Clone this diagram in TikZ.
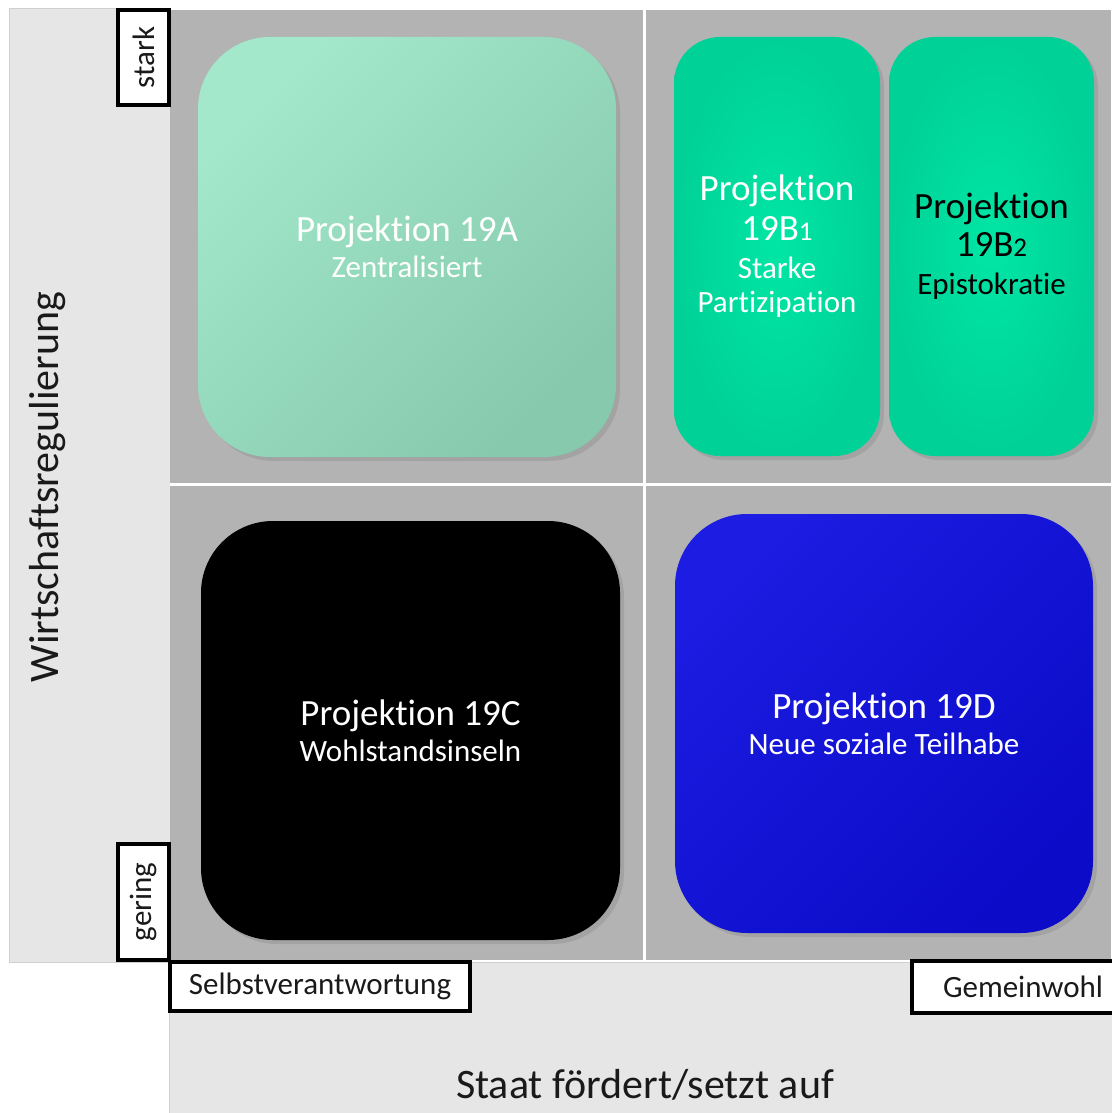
\documentclass[tikz,border=0pt]{standalone}
\usepackage{fontspec}
\setmainfont{Carlito}[Ligatures=NoCommon]
\usetikzlibrary{shadows}

\definecolor{raster}{HTML}{B3B3B3}
\definecolor{panel}{HTML}{E6E6E6}
\definecolor{panelrand}{HTML}{CFCFCF}
\definecolor{mintA}{HTML}{A3E8CB}
\definecolor{mintB}{HTML}{86C9AC}
\definecolor{gruenHell}{HTML}{00E6A5}
\definecolor{gruenDunkel}{HTML}{00D197}
\definecolor{blauA}{HTML}{1C1CE2}
\definecolor{blauB}{HTML}{0B0BC8}
\definecolor{schrift}{HTML}{1A1A1A}

\newcommand{\projgross}{\fontsize{37}{37}\selectfont}
\newcommand{\projklein}{\fontsize{31}{34}\selectfont}

\begin{document}
\begin{tikzpicture}[x=1pt, y=-1pt,
  projektion/.style={rectangle, inner sep=0pt, align=center, text=white, font=\projklein,
    drop shadow={shadow xshift=4pt, shadow yshift=-4pt, opacity=0.3}},
  pol/.style={draw=black, line width=4pt, fill=white, inner sep=0pt, text=schrift,
    font=\fontsize{31}{31}\selectfont},
  achse/.style={text=schrift, font=\fontsize{42}{42}\selectfont}]
\useasboundingbox (0,0) rectangle (1111,1113);

% Hintergrund
\fill[white] (0,0) rectangle (1111,1113);
\filldraw[fill=panel, draw=panelrand, line width=1pt] (9,9) rectangle (170,962);
\filldraw[fill=panel, draw=panelrand, line width=1pt] (169,962) rectangle (1115,1116);
\fill[raster] (170,10) rectangle (1111,960);
\draw[white, line width=3pt] (644,10) -- (644,960);
\draw[white, line width=3pt] (170,484) -- (1111,484);

% Projektionen
\node[projektion, rounded corners=72pt, minimum width=418, minimum height=420,
  top color=mintA, bottom color=mintB, shading angle=45] (p19A) at (407,247)
  {{\projgross Projektion 19A}\\[2pt]Zentralisiert};
\node[projektion, rounded corners=46pt, minimum width=206, minimum height=419,
  inner color=gruenHell, outer color=gruenDunkel] (p19B1) at (777,246.5)
  {{\projgross Projektion}\\[6pt]{\projgross 19B{\fontsize{27}{27}\selectfont 1}}\\[4pt]Starke\\Partizipation};
\node[projektion, rounded corners=46pt, minimum width=205, minimum height=419,
  inner color=gruenHell, outer color=gruenDunkel, text=black] (p19B2) at (991.5,246.5)
  {{\projgross Projektion}\\[4pt]{\projgross 19B{\fontsize{27}{27}\selectfont 2}}\\[4pt]Epistokratie};
\node[projektion, rounded corners=72pt, minimum width=419, minimum height=419,
  fill=black] (p19C) at (410.5,730.5)
  {{\projgross Projektion 19C}\\[2pt]Wohlstandsinseln};
\node[projektion, rounded corners=72pt, minimum width=418, minimum height=419,
  top color=blauA, bottom color=blauB, shading angle=45] (p19D) at (884,723.5)
  {{\projgross Projektion 19D}\\[2pt]Neue soziale Teilhabe};

% Pole
\node[pol, rotate=90, minimum width=95, minimum height=51] (stark) at (143.5,57.5) {stark};
\node[pol, rotate=90, minimum width=116, minimum height=51] (gering) at (143.5,902) {gering};
\node[pol, minimum width=300, minimum height=49] (selbst) at (320,986.5) {Selbstverantwortung};
\node[pol, minimum width=222, minimum height=52] (gemein) at (1023,987) {Gemeinwohl};

% Achsen
\node[achse, rotate=90] (wirtschaft) at (48,487) {Wirtschaftsregulierung};
\node[achse] (staat) at (645,1085) {Staat fördert/setzt auf};
\end{tikzpicture}
\end{document}
